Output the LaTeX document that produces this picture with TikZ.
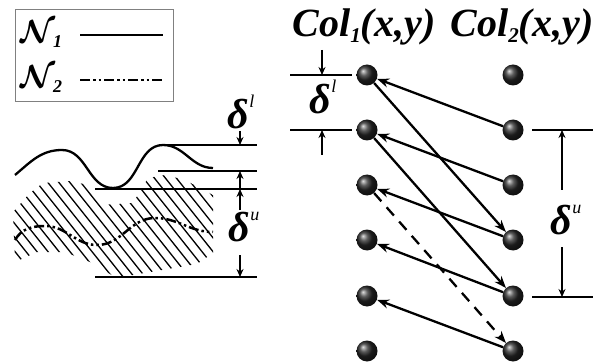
\documentclass[tikz,border=0pt]{standalone}
\usepackage{fix-cm}
\usepackage{fontspec}
\newfontfamily\lblfont{Liberation Serif}
\usetikzlibrary{arrows.meta}

% gap labels: delta with a small raised letter
\newcommand{\gaplbl}[1]{{\lblfont\bfseries\itshape\fontsize{42}{42}\selectfont δ\raisebox{21pt}{\mdseries\fontsize{18}{18}\selectfont #1}}}
\newcommand{\netlbl}[1]{{\fontsize{32}{32}\selectfont$\boldsymbol{\mathcal{N}}$}\kern-2pt\raisebox{-5pt}{\lblfont\bfseries\itshape\fontsize{18}{18}\selectfont #1}}
\newcommand{\collbl}[1]{{\lblfont\bfseries\itshape\fontsize{40}{40}\selectfont Col\raisebox{-6pt}{\fontsize{21}{21}\selectfont #1}(x,y)}}

\usepackage{amsmath,bm}
\tikzset{
  dot/.style={circle, inner sep=0pt, minimum size=21pt, shading=ball, ball color=black!85},
  link/.style={-{Stealth[length=12pt,width=9pt]}, line width=2.3pt},
  dim/.style={-{Stealth[length=8pt,width=7pt]}, line width=2.1pt},
  rule/.style={line width=2.3pt},
  hatch/.style={line width=1.3pt},
  dashdotdot/.style={line width=2.5pt, dash pattern=on 10pt off 3pt on 2.5pt off 3pt on 2.5pt off 3pt},
}

\begin{document}
\begin{tikzpicture}[x=1pt, y=-1pt]
  \useasboundingbox (0,0) rectangle (593,363);

  % Legend
  \draw[gray, line width=1pt] (15,10) rectangle (173,102);
  \node[anchor=base west, inner sep=0pt] (n1) at (20,43) {\netlbl{1}};
  \node[anchor=base west, inner sep=0pt] (n2) at (20,88) {\netlbl{2}};
  \coordinate (n1a) at (80,35);  \coordinate (n1b) at (163,35);
  \coordinate (n2a) at (80,80);  \coordinate (n2b) at (163,80);
  \draw[rule] (n1a) -- (n1b);
  \draw[dashdotdot] (n2a) -- (n2b);

  % Hatched area
  \begin{scope}
    \clip (13,212) -- (30,193) -- (43,183) -- (70,181) -- (88,185) -- (100,205)
      -- (133,203) -- (148,178) -- (165,175) -- (185,180) -- (213,195)
      -- (213,253) -- (197,264) -- (133,275) -- (115,277) -- (90,262)
      -- (65,252) -- (37,252) -- (15,262) -- cycle;
    \foreach \i in {-8,...,19}
      \draw[hatch] (\i*11,150) -- ++(110,138);
  \end{scope}

  % Curves
  \draw[rule] (15,175) to[out=40,in=180] (62,150) to[out=0,in=180] (113,188)
    to[out=0,in=180] (163,145) to[out=0,in=180] (213,168);
  \draw[dashdotdot] (15,240) to[out=60,in=180] (45,226) to[out=0,in=180] (97,245)
    to[out=0,in=180] (155,218) to[out=0,in=180] (213,232);

  % Levels on the left
  \coordinate (lt1) at (160,145); \coordinate (lt2) at (257,145);
  \coordinate (lm1) at (158,171); \coordinate (lm2) at (257,171);
  \coordinate (ls1) at (95,189);  \coordinate (ls2) at (257,189);
  \coordinate (lb1) at (95,277);  \coordinate (lb2) at (257,277);
  \draw[rule] (lt1) -- (lt2);
  \draw[rule] (lm1) -- (lm2);
  \draw[rule] (ls1) -- (ls2);
  \draw[rule] (lb1) -- (lb2);

  \node[anchor=base, inner sep=0pt] (dl) at (241,129) {\gaplbl{l}};
  \node[anchor=base, inner sep=0pt] (du) at (244,241) {\gaplbl{u}};
  \coordinate (dla) at (240,131); \coordinate (dlb) at (240,145);
  \coordinate (dlc) at (240,189); \coordinate (dld) at (240,171);
  \coordinate (dua) at (240,210); \coordinate (dub) at (240,189);
  \coordinate (duc) at (240,255); \coordinate (dud) at (240,277);
  \draw[dim] (dla) -- (dlb);
  \draw[dim] (dlc) -- (dld);
  \draw[dim] (dua) -- (dub);
  \draw[dim] (duc) -- (dud);

  % Columns of pixels
  \node[anchor=base] (col1) at (364,37) {\collbl{1}};
  \node[anchor=base] (col2) at (522,37) {\collbl{2}};
  \foreach \r/\y in {1/75,2/130,3/185,4/240,5/296,6/351} {
    \node[dot] (a\r) at (367,\y) {};
    \node[dot] (b\r) at (513,\y) {};
  }

  % Matches
  \draw[link] (b2) -- (a1);
  \draw[link] (b3) -- (a2);
  \draw[link] (a1) -- (b4);
  \draw[link] (a2) -- (b5);
  \draw[link] (b4) -- (a3);
  \draw[link] (b5) -- (a4);
  \draw[link] (b6) -- (a5);
  \draw[link, dash pattern=on 11pt off 8pt] (a3) -- (b6);

  % Gap beside column 1
  \coordinate (ct1) at (290,75);  \coordinate (ct2) at (352,75);
  \coordinate (cm1) at (290,130); \coordinate (cm2) at (352,130);
  \draw[rule] (ct1) -- (ct2);
  \draw[rule] (cm1) -- (cm2);
  \node[anchor=base, inner sep=0pt] (cl) at (323,114) {\gaplbl{l}};
  \coordinate (cla) at (322,50);  \coordinate (clb) at (322,75);
  \coordinate (clc) at (322,155); \coordinate (cld) at (322,130);
  \draw[dim] (cla) -- (clb);
  \draw[dim] (clc) -- (cld);

  % Gap beside column 2
  \coordinate (rt1) at (532,130); \coordinate (rt2) at (593,130);
  \coordinate (rb1) at (532,297); \coordinate (rb2) at (593,297);
  \draw[rule] (rt1) -- (rt2);
  \draw[rule] (rb1) -- (rb2);
  \node[anchor=base, inner sep=0pt] (ru) at (566,234) {\gaplbl{u}};
  \coordinate (rua) at (562,190); \coordinate (rub) at (562,130);
  \coordinate (ruc) at (562,247); \coordinate (rud) at (562,297);
  \draw[dim] (rua) -- (rub);
  \draw[dim] (ruc) -- (rud);
\end{tikzpicture}
\end{document}
